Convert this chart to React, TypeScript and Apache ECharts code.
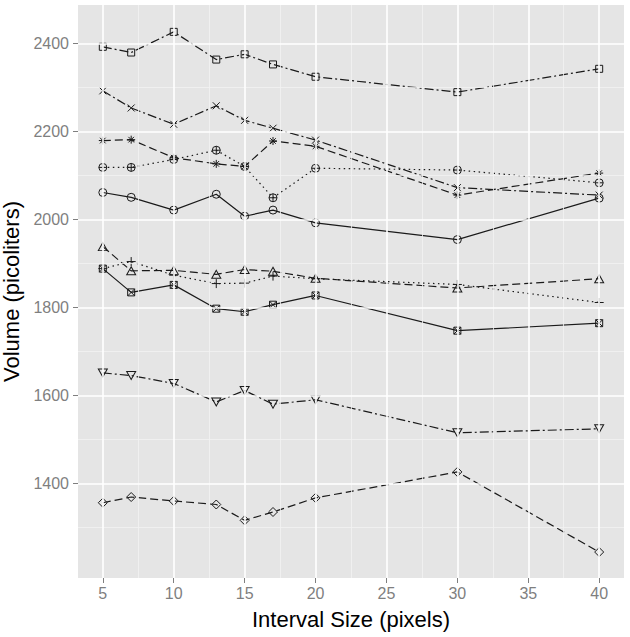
import React, { useEffect, useRef } from "react";
import * as echarts from "echarts";

// ---- Data ----
const intervals = [5, 7, 10, 13, 15, 17, 20, 30, 40];

const squareOpen = [2392, 2379, 2426, 2363, 2375, 2352, 2324, 2289, 2342];
const crossX = [2292, 2253, 2216, 2258, 2225, 2207, 2180, 2072, 2055];
const asterisk = [2179, 2181, 2140, 2126, 2120, 2178, 2166, 2055, 2105];
const circlePlus = [2118, 2118, 2136, 2157, 2120, 2049, 2116, 2112, 2083];
const circleOpen = [2061, 2050, 2021, 2057, 2007, 2021, 1992, 1954, 2048];
const triangleUp = [1938, 1883, 1884, 1875, 1886, 1882, 1866, 1844, 1865];
const plusSign = [1888, 1904, 1873, 1854, 1855, 1871, 1865, 1852, 1811];
const squareCross = [1888, 1834, 1851, 1797, 1790, 1806, 1827, 1747, 1764];
const triangleDown = [1651, 1645, 1627, 1585, 1611, 1580, 1590, 1515, 1524];
const diamondOpen = [1356, 1369, 1360, 1352, 1316, 1335, 1367, 1426, 1244];

const xTicks = [5, 10, 15, 20, 25, 30, 35, 40];
const xMinor = [7.5, 12.5, 17.5, 22.5, 27.5, 32.5, 37.5];
const yTicks = [1400, 1600, 1800, 2000, 2200, 2400];
const yMinor = [1300, 1500, 1700, 1900, 2100, 2300];

const X_MIN = 3.25;
const X_MAX = 41.75;
const Y_MIN = 1185;
const Y_MAX = 2487;

// ---- Styles ----
const SYM = {
  square: "path://M0,0L10,0L10,10L0,10Z",
  circle: "path://M0,5A5,5,0,1,1,10,5A5,5,0,1,1,0,5Z",
  triUp: "path://M5,0L10,8.66L0,8.66Z",
  triDown: "path://M0,0L10,0L5,8.66Z",
  plus: "path://M5,0L5,10M0,5L10,5",
  cross: "path://M0,0L10,10M10,0L0,10",
  diamond: "path://M5,0L10,5L5,10L0,5Z",
  squareCross: "path://M0,0L10,0L10,10L0,10ZM0,0L10,10M10,0L0,10",
  asterisk: "path://M5,0L5,10M0,5L10,5M1.5,1.5L8.5,8.5M8.5,1.5L1.5,8.5",
  circlePlus: "path://M0,5A5,5,0,1,1,10,5A5,5,0,1,1,0,5ZM5,0L5,10M0,5L10,5",
};

const SOLID: any = "solid";
const DASHED = [8, 4];
const DOTTED = [1.5, 3.5];
const DOTDASH = [9, 3, 2, 3];

const INK = "#1a1a1a";
const FONT = "'Liberation Sans', Arial, Helvetica, sans-serif";

function makeSeries(name: string, values: number[], symbol: string, dash: any, size: any = 8) {
  return {
    name,
    type: "line",
    z: 3,
    data: intervals.map((x, i) => [x, values[i]]),
    symbol,
    symbolSize: size,
    showSymbol: true,
    lineStyle: { color: INK, width: 1.2, type: dash },
    itemStyle: { color: "rgba(0,0,0,0)", borderColor: INK, borderWidth: 1 },
    emphasis: { disabled: true },
    silent: true,
  };
}

export default function App() {
  const ref = useRef<HTMLDivElement>(null);

  useEffect(() => {
    if (!ref.current) return;
    const chart = echarts.init(ref.current, null, { renderer: "svg" });

    const gridLines: any[] = [
      ...xMinor.map((v) => ({ xAxis: v, lineStyle: { color: "#F2F2F2", width: 0.8, type: "solid" } })),
      ...yMinor.map((v) => ({ yAxis: v, lineStyle: { color: "#F2F2F2", width: 0.8, type: "solid" } })),
      ...xTicks.map((v) => ({ xAxis: v, lineStyle: { color: "#FFFFFF", width: 1.6, type: "solid" } })),
      ...yTicks.map((v) => ({ yAxis: v, lineStyle: { color: "#FFFFFF", width: 1.6, type: "solid" } })),
    ];

    chart.setOption({
      animation: false,
      backgroundColor: "#FFFFFF",
      textStyle: { fontFamily: FONT },
      grid: {
        left: 78,
        right: 6,
        top: 5,
        bottom: 59,
        show: true,
        backgroundColor: "#E5E5E5",
        borderWidth: 0,
        containLabel: false,
        outerBoundsMode: "none",
      },
      xAxis: {
        type: "value",
        min: X_MIN,
        max: X_MAX,
        name: "Interval Size (pixels)",
        nameLocation: "middle",
        nameGap: 30,
        nameTextStyle: { color: "#000", fontSize: 22, fontFamily: FONT },
        axisLine: { show: false },
        axisTick: {
          show: true,
          length: 5,
          customValues: xTicks,
          lineStyle: { color: "#7F7F7F", width: 1 },
        },
        axisLabel: {
          customValues: xTicks,
          color: "#7F7F7F",
          fontSize: 16,
          margin: 7,
          fontFamily: FONT,
          formatter: (v: number) => String(v),
        },
        splitLine: { show: false },
      },
      yAxis: {
        type: "value",
        min: Y_MIN,
        max: Y_MAX,
        name: "Volume (picoliters)",
        nameLocation: "middle",
        nameGap: 52,
        nameRotate: 90,
        nameTextStyle: { color: "#000", fontSize: 22, fontFamily: FONT },
        axisLine: { show: false },
        axisTick: {
          show: true,
          length: 5,
          customValues: yTicks,
          lineStyle: { color: "#7F7F7F", width: 1 },
        },
        axisLabel: {
          customValues: yTicks,
          color: "#7F7F7F",
          fontSize: 16,
          margin: 9,
          fontFamily: FONT,
          formatter: (v: number) => String(v),
        },
        splitLine: { show: false },
      },
      series: [
        {
          name: "grid",
          type: "line",
          z: 1,
          data: [],
          silent: true,
          markLine: {
            silent: true,
            symbol: ["none", "none"],
            label: { show: false },
            emphasis: { disabled: true },
            data: gridLines,
          },
        },
        makeSeries("squareOpen", squareOpen, SYM.square, DOTDASH, 7),
        makeSeries("crossX", crossX, SYM.cross, DOTDASH, 7),
        makeSeries("asterisk", asterisk, SYM.asterisk, DASHED, 8),
        makeSeries("circlePlus", circlePlus, SYM.circlePlus, DOTTED, 8),
        makeSeries("circleOpen", circleOpen, SYM.circle, SOLID, 8),
        makeSeries("triangleUp", triangleUp, SYM.triUp, DASHED, [9, 8]),
        makeSeries("plusSign", plusSign, SYM.plus, DOTTED, 9),
        makeSeries("squareCross", squareCross, SYM.squareCross, SOLID, 7),
        makeSeries("triangleDown", triangleDown, SYM.triDown, DOTDASH, [9, 8]),
        makeSeries("diamondOpen", diamondOpen, SYM.diamond, DASHED, 9),
      ],
    });

    return () => chart.dispose();
  }, []);

  return <div ref={ref} style={{ width: 630, height: 637, position: "absolute", left: 0, top: 0 }} />;
}
